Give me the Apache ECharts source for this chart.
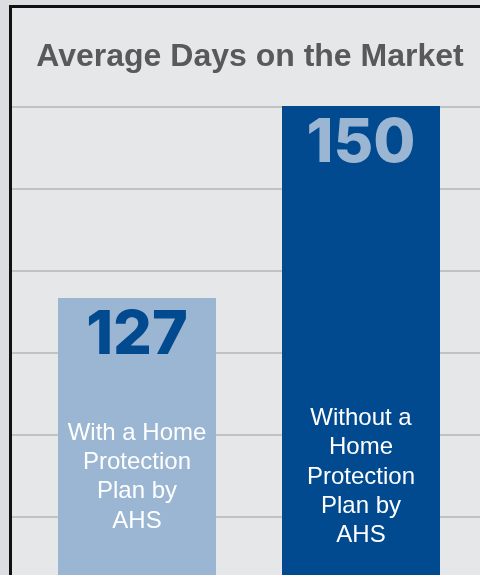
<!DOCTYPE html>
<html>
<head>
<meta charset="utf-8">
<style>
html,body{margin:0;padding:0;background:#dcdde0;}
#chart{width:480px;height:575px;}
</style>
<script src="https://cdn.jsdelivr.net/npm/echarts@6/dist/echarts.min.js"></script>
</head>
<body>
<div id="chart"></div>
<script>
var titleText = "Average Days on the Market";
var categories = ["With a Home\nProtection\nPlan by\nAHS", "Without a\nHome\nProtection\nPlan by\nAHS"];
var values = [127, 150];
var barColors = ["#9ab6d3", "#024a8f"];
var valueLabelColors = ["#024a8f", "#9ab6d3"];

var FONT = "'Liberation Sans', Arial, Helvetica, sans-serif";
var NUMFONT = "Inter, 'Liberation Sans', Arial, sans-serif";
var chart = echarts.init(document.getElementById('chart'), null, {renderer: 'canvas'});
chart.setOption({
  backgroundColor: '#dcdde0',
  animation: false,
  graphic: {
    elements: [
      {type: 'rect', z: -20, silent: true, shape: {x: 9, y: 5, width: 600, height: 700}, style: {fill: '#111111'}},
      {type: 'rect', z: -19, silent: true, shape: {x: 12, y: 8, width: 600, height: 700}, style: {fill: '#e6e7e9'}}
    ]
  },
  title: {
    text: titleText,
    left: 245,
    top: 36,
    textAlign: 'center',
    textStyle: {fontFamily: FONT, fontSize: 32, fontWeight: 'bold', color: '#59595b', lineHeight: 32}
  },
  grid: [
    {left: 25, right: 7, top: 106, bottom: 0},
    {left: 12, right: 0, top: 107, bottom: 58}
  ],
  xAxis: [
    {
      type: 'category', gridIndex: 0, data: categories, z: 10,
      axisLine: {show: false}, axisTick: {show: false}, splitLine: {show: false},
      axisLabel: {
        inside: true, interval: 0, margin: 98, verticalAlign: 'middle',
        color: '#ffffff', fontFamily: FONT, fontSize: 24, lineHeight: 29.3
      }
    },
    {type: 'value', gridIndex: 1, show: false, min: 0, max: 1}
  ],
  yAxis: [
    {type: 'value', gridIndex: 0, min: 93.8, max: 150, show: false, splitLine: {show: false}},
    {
      type: 'value', gridIndex: 1, min: 0, max: 5, interval: 1,
      axisLine: {show: false}, axisTick: {show: false}, axisLabel: {show: false},
      splitLine: {show: true, lineStyle: {color: '#c1c2c4', width: 2}}
    }
  ],
  series: [{
    type: 'bar',
    xAxisIndex: 0, yAxisIndex: 0,
    barWidth: 158,
    data: values.map(function (v, i) {
      return {
        value: v,
        itemStyle: {color: barColors[i]},
        label: {color: valueLabelColors[i]}
      };
    }),
    label: {
      show: true, position: 'insideTop', distance: 8,
      fontFamily: NUMFONT, fontSize: 61, fontWeight: 800, lineHeight: 60
    }
  }]
});
</script>
</body>
</html>
